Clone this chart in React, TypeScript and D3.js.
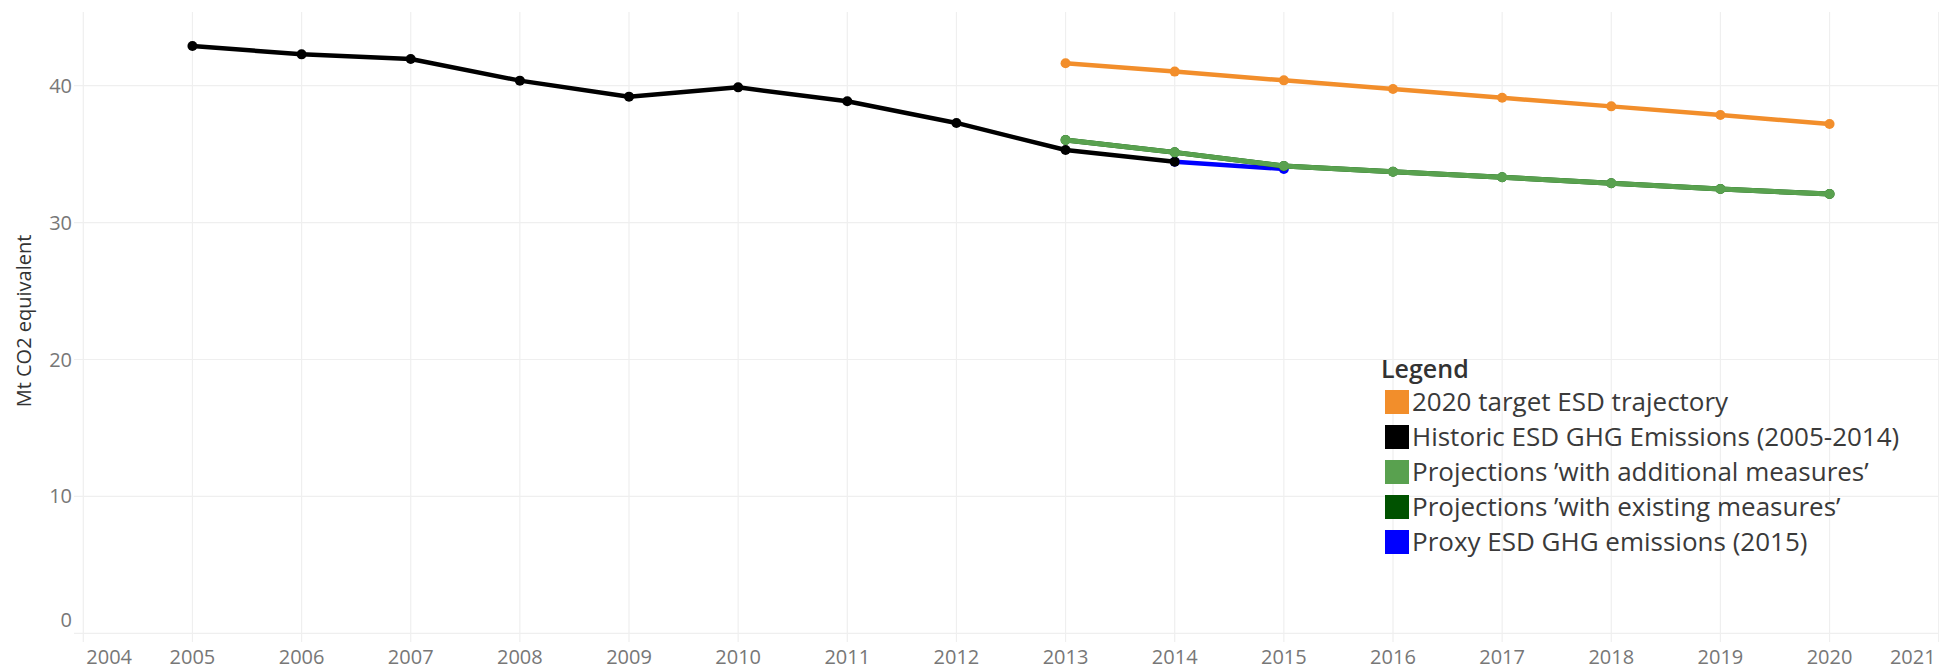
import React, { useEffect, useRef } from "react";
import * as d3 from "d3";

// years on the x axis
const years = d3.range(2004, 2022);
const yTicks = [0, 10, 20, 30, 40];

// series
const historicYears = [2005, 2006, 2007, 2008, 2009, 2010, 2011, 2012, 2013, 2014];
const historicValues = [42.9, 42.29, 41.95, 40.37, 39.2, 39.88, 38.86, 37.28, 35.3, 34.45];

const projYears = [2013, 2014, 2015, 2016, 2017, 2018, 2019, 2020];
const targetValues = [41.64, 41.03, 40.39, 39.76, 39.12, 38.49, 37.86, 37.2];
const additionalValues = [36.03, 35.13, 34.13, 33.72, 33.31, 32.87, 32.45, 32.09];
const existingValues = [36.03, 35.13, 34.13, 33.72, 33.31, 32.87, 32.45, 32.09];

const proxyYears = [2014, 2015];
const proxyValues = [34.45, 33.92];

const legendLabels = [
  "2020 target ESD trajectory",
  "Historic ESD GHG Emissions (2005-2014)",
  "Projections \u2019with additional measures\u2019",
  "Projections \u2019with existing measures\u2019",
  "Proxy ESD GHG emissions (2015)",
];
const legendColors = ["#F28E2B", "#000000", "#59A14F", "#005200", "#0000FF"];

const W = 1939;
const H = 670;

const buildChart = (el: SVGSVGElement) => {
  const svg = d3.select(el);
  svg.selectAll("*").remove();

  const x = d3.scaleLinear().domain([2004, 2021]).range([83.3, 1938.7]);
  const y = d3.scaleLinear().domain([0, 40]).range([633.3, 85.7]);
  const top = 12;

  const grid = svg.append("g");
  grid
    .selectAll(".vgrid")
    .data(years)
    .enter()
    .append("line")
    .attr("x1", d => x(d))
    .attr("x2", d => x(d))
    .attr("y1", top)
    .attr("y2", 642)
    .attr("stroke", "#efefef")
    .attr("stroke-width", 1.2);

  grid
    .selectAll(".hgrid")
    .data(yTicks)
    .enter()
    .append("line")
    .attr("x1", 74)
    .attr("x2", W)
    .attr("y1", d => y(d))
    .attr("y2", d => y(d))
    .attr("stroke", "#efefef")
    .attr("stroke-width", 1.2);

  // y tick labels
  svg
    .append("g")
    .selectAll("text")
    .data(yTicks)
    .enter()
    .append("text")
    .attr("x", 72)
    .attr("y", d => (d === 0 ? y(d) - 13 : y(d)))
    .attr("dy", "0.35em")
    .attr("text-anchor", "end")
    .attr("font-family", "Open Sans")
    .attr("font-size", 20)
    .attr("fill", "#777")
    .text(d => d);

  // x tick labels
  svg
    .append("g")
    .selectAll("text")
    .data(years)
    .enter()
    .append("text")
    .attr("x", d => (d === 2004 ? x(d) + 3 : d === 2021 ? x(d) - 3 : x(d)))
    .attr("y", 664)
    .attr("text-anchor", d => (d === 2004 ? "start" : d === 2021 ? "end" : "middle"))
    .attr("font-family", "Open Sans")
    .attr("font-size", 20)
    .attr("fill", "#777")
    .text(d => d);

  // y axis title
  svg
    .append("text")
    .attr("transform", "translate(24, 321) rotate(-90)")
    .attr("text-anchor", "middle")
    .attr("dy", "0.35em")
    .attr("font-family", "Open Sans")
    .attr("font-size", 20)
    .attr("fill", "#333")
    .text("Mt CO2 equivalent");

  const line = d3
    .line<[number, number]>()
    .x(d => x(d[0]))
    .y(d => y(d[1]));

  const series = [
    { xs: proxyYears, vs: proxyValues, color: legendColors[4], w: 4.5 },
    { xs: historicYears, vs: historicValues, color: legendColors[1], w: 4.5 },
    { xs: projYears, vs: existingValues, color: legendColors[3], w: 5 },
    { xs: projYears, vs: additionalValues, color: legendColors[2], w: 5 },
    { xs: projYears, vs: targetValues, color: legendColors[0], w: 4.5 },
  ];

  series.forEach(s => {
    const pts: [number, number][] = s.xs.map((yr, i) => [yr, s.vs[i]]);
    const g = svg.append("g");
    g.append("path")
      .datum(pts)
      .attr("fill", "none")
      .attr("stroke", s.color)
      .attr("stroke-width", s.w)
      .attr("stroke-linejoin", "round")
      .attr("d", line);
    g.selectAll("circle")
      .data(pts)
      .enter()
      .append("circle")
      .attr("cx", d => x(d[0]))
      .attr("cy", d => y(d[1]))
      .attr("r", 5)
      .attr("fill", s.color);
  });

  // legend
  const legend = svg.append("g").attr("transform", "translate(1381, 0)");
  legend
    .append("text")
    .attr("x", 0)
    .attr("y", 378)
    .attr("font-family", "Open Sans")
    .attr("font-weight", 600)
    .attr("font-size", 25)
    .attr("fill", "#333")
    .text("Legend");

  const items = legend
    .selectAll(".item")
    .data(legendLabels)
    .enter()
    .append("g")
    .attr("transform", (d, i) => `translate(0, ${390 + i * 35})`);

  items
    .append("rect")
    .attr("x", 4)
    .attr("y", 0)
    .attr("width", 24)
    .attr("height", 24)
    .attr("fill", (d, i) => legendColors[i]);

  items
    .append("text")
    .attr("x", 31)
    .attr("y", 12)
    .attr("dy", "0.35em")
    .attr("font-family", "Open Sans")
    .attr("font-size", 26)
    .attr("fill", "#3a3a3a")
    .text(d => d);
};

function App() {
  const ref = useRef<SVGSVGElement>(null);
  useEffect(() => {
    if (ref.current) buildChart(ref.current);
  }, []);
  return (
    <svg
      ref={ref}
      width={W}
      height={H}
      style={{ position: "absolute", left: 0, top: 0, background: "#fff" }}
    />
  );
}

export default App;
